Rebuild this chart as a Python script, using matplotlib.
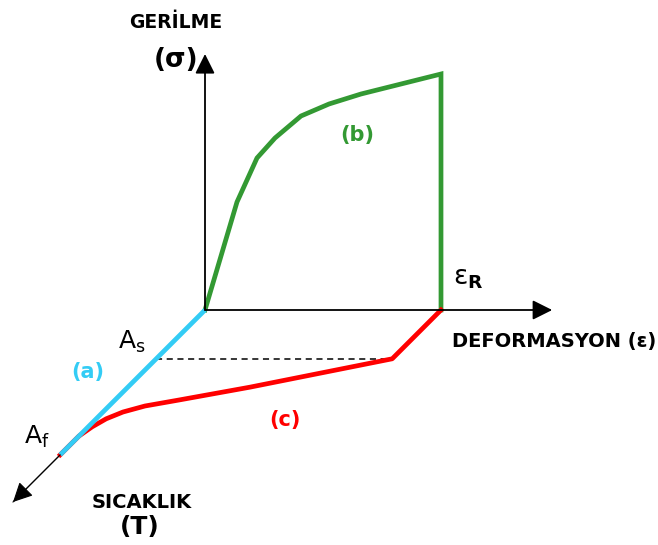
import matplotlib
matplotlib.use("Agg")
import matplotlib.pyplot as plt

# Shape-memory cycle drawn on an oblique stress / strain / temperature frame.
# Units are arbitrary; one unit is the same length on every axis.

C_LOAD = "#339933"    # (b) loading at constant temperature
C_HEAT = "#ff0000"    # (c) recovery on heating
C_TEMP = "#33ccf5"    # (a) temperature path As -> Af

# (b) stress-strain loading curve, then unloading at eps_R
strain_b = [0.0, 0.8, 1.3, 1.75, 2.4, 3.1, 3.9, 5.9, 5.9]
stress_b = [0.0, 2.7, 3.8, 4.3, 4.85, 5.15, 5.4, 5.9, 0.0]

# (c) strain recovered while temperature rises
strain_c = [5.9, 5.9, 3.05, 1.6, 0.9, 0.5, 0.25, 0.1, 0.0, 0.0]
temp_c = [0.0, 1.22, 1.93, 2.25, 2.4, 2.55, 2.72, 2.92, 3.15, 3.62]

EPS_R = 5.9
T_AS = 1.22
T_AF = 3.62

# axis lengths (arrow tips)
STRESS_MAX = 6.4
STRAIN_MAX = 8.68
TEMP_MAX = 4.8


def proj(strain, stress, temp):
    """Oblique projection: temperature runs down-left at 45 degrees."""
    x = [e - t for e, t in zip(strain, temp)]
    y = [s - t for s, t in zip(stress, temp)]
    return x, y


def arrow(ax, start, tip, lw=1.3, color="black"):
    ax.annotate("", xy=tip, xytext=start,
                arrowprops=dict(arrowstyle="-|>,head_length=0.6,head_width=0.3",
                                mutation_scale=20, lw=lw, color=color,
                                shrinkA=0, shrinkB=0))


fig = plt.figure(figsize=(6.58, 5.45), dpi=100)
ax = fig.add_axes([0, 0, 1, 1])
ax.set_xlim(-5.125, 11.325)
ax.set_ylim(-5.875, 7.75)
ax.axis("off")

# axes
arrow(ax, (0, 0), (0, STRESS_MAX))
arrow(ax, (0, 0), (STRAIN_MAX, 0))
tx, ty = proj([0], [0], [TEMP_MAX])
ax.plot([0, tx[0]], [0, ty[0]], color="#222222", lw=0.8)
arrow(ax, (-T_AF, -T_AF), (tx[0], ty[0]), lw=0.8)

# dashed As level
dx, dy = proj([0, EPS_R], [0, 0], [T_AS, T_AS])
ax.plot(dx, dy, color="black", lw=1.1, ls=(0, (4, 3)))

# curves
bx, by = proj(strain_b, stress_b, [0] * len(strain_b))
ax.plot(bx, by, color=C_LOAD, lw=3.4, solid_joinstyle="miter")

cx, cy = proj(strain_c, [0] * len(strain_c), temp_c)
ax.plot(cx, cy, color=C_HEAT, lw=3.4)

ax_, ay_ = proj([0, 0], [0, 0], [0, T_AF])
ax.plot(ax_, ay_, color=C_TEMP, lw=3.4, solid_capstyle="butt")

# labels
bold = dict(fontweight="bold", ha="center", va="center")
ax.text(-0.73, 7.2, "GERİLME", fontsize=13.5, **bold)
ax.text(-0.72, 6.25, "(σ)", fontsize=19, **bold)
ax.text(6.18, -0.78, "DEFORMASYON (ε)", fontsize=14, fontweight="bold",
        ha="left", va="center")
ax.text(-1.58, -4.8, "SICAKLIK", fontsize=14, **bold)
ax.text(-1.63, -5.43, "(T)", fontsize=18, **bold)

ax.text(3.8, 4.38, "(b)", color=C_LOAD, fontsize=15, **bold)
ax.text(2.0, -2.75, "(c)", color=C_HEAT, fontsize=15, **bold)
ax.text(-2.93, -1.55, "(a)", color=C_TEMP, fontsize=15, **bold)

ax.text(-1.83, -0.8, r"A$_\mathregular{s}$", fontsize=18, ha="center", va="center")
ax.text(-4.2, -3.18, r"A$_\mathregular{f}$", fontsize=18, ha="center", va="center")
ax.text(6.2, 0.8, r"ε$_\mathbf{R}$", fontsize=19, ha="left", va="center")

fig.savefig("out.png", dpi=100)
